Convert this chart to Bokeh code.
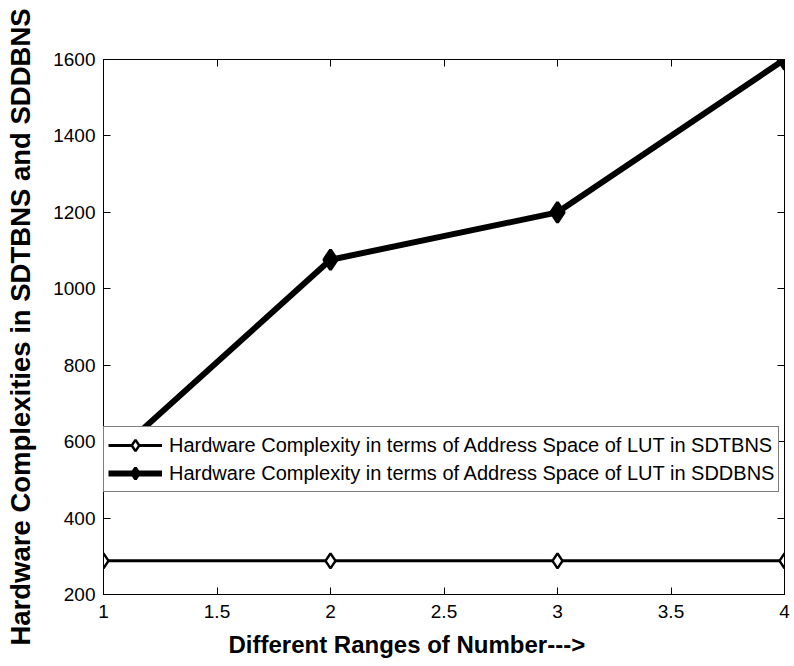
from bokeh.plotting import figure
from bokeh.models import Range1d, FixedTicker, LinearAxis, Legend, LegendItem, Title
from bokeh.embed import file_html
from bokeh.resources import INLINE

# ---- data ----
ranges_x = [1, 2, 3, 4]
sdtbns = [288, 288, 288, 288]
sddbns = [540, 1076, 1200, 1600]

x_ticks = [1, 1.5, 2, 2.5, 3, 3.5, 4]
x_tick_labels = ["1", "1.5", "2", "2.5", "3", "3.5", "4"]
y_ticks = [200, 400, 600, 800, 1000, 1200, 1400, 1600]
y_tick_labels = ["200", "400", "600", "800", "1000", "1200", "1400", "1600"]

label_sdtbns = "Hardware Complexity in terms of Address Space of LUT in SDTBNS"
label_sddbns = "Hardware Complexity in terms of Address Space of LUT in SDDBNS"
x_title = "Different Ranges of Number--->"
y_title = "Hardware Complexities in SDTBNS and SDDBNS"

FONT = "Liberation Sans"

p = figure(width=794, height=666, output_backend="svg", toolbar_location=None,
           x_range=Range1d(1, 4), y_range=Range1d(200, 1600),
           min_border_left=103, min_border_right=10,
           min_border_top=59, min_border_bottom=72,
           background_fill_color="white", border_fill_color="white")

p.grid.visible = False
p.outline_line_color = "black"
p.outline_line_width = 1

def style_axis(ax, ticks, labels):
    ax.ticker = FixedTicker(ticks=ticks)
    ax.major_label_overrides = {t: l for t, l in zip(ticks, labels)}
    ax.minor_tick_line_color = None
    ax.major_tick_in = 7
    ax.major_tick_out = 0
    ax.major_tick_line_color = "black"
    ax.major_tick_line_width = 1
    ax.axis_line_color = "black"
    ax.major_label_text_font = FONT
    ax.major_label_text_color = "black"
    ax.major_label_text_font_size = "19px"
    ax.major_label_standoff = 8

def mirror_axis(ticks):
    # ticks only (as minor ticks), so no labels are produced
    ax = LinearAxis(ticker=FixedTicker(ticks=[], minor_ticks=ticks))
    ax.major_tick_line_color = None
    ax.minor_tick_in = 7
    ax.minor_tick_out = 0
    ax.minor_tick_line_color = "black"
    ax.minor_tick_line_width = 1
    ax.axis_line_color = "black"
    return ax

xa = p.xaxis[0]
ya = p.yaxis[0]
style_axis(xa, x_ticks, x_tick_labels)
style_axis(ya, y_ticks, y_tick_labels)
xa.major_label_standoff = 10

ya.axis_label = y_title
ya.axis_label_text_font = FONT
ya.axis_label_text_font_style = "bold"
ya.axis_label_text_font_size = "27.5px"
ya.axis_label_text_color = "black"
ya.axis_label_standoff = 14

p.add_layout(mirror_axis(x_ticks), "above")
p.add_layout(mirror_axis(y_ticks), "right")

xt = Title(text=x_title, align="left", offset=125, standoff=16,
           text_font=FONT, text_font_style="bold", text_font_size="24px",
           text_color="black")
p.add_layout(xt, "below")

# ---- series ----
l1 = p.line(ranges_x, sdtbns, line_color="black", line_width=3)
m1 = p.scatter(ranges_x, sdtbns, marker="diamond", size=15,
               fill_color="white", line_color="black", line_width=2.5)
l2 = p.line(ranges_x, sddbns, line_color="black", line_width=6)
m2 = p.scatter(ranges_x, sddbns, marker="diamond", size=20,
               fill_color="black", line_color="black", line_width=3)

legend = Legend(items=[LegendItem(label=label_sdtbns, renderers=[l1, m1]),
                       LegendItem(label=label_sddbns, renderers=[l2, m2])],
                location=(0, 102),
                glyph_width=54, glyph_height=28, label_height=28,
                spacing=0, padding=4, label_standoff=7,
                label_text_font=FONT, label_text_font_size="20px",
                label_text_color="black",
                border_line_color="black", border_line_width=1.5,
                background_fill_color="white", background_fill_alpha=1.0)
p.add_layout(legend, "center")

open("out.html", "w").write(file_html(p, INLINE))
